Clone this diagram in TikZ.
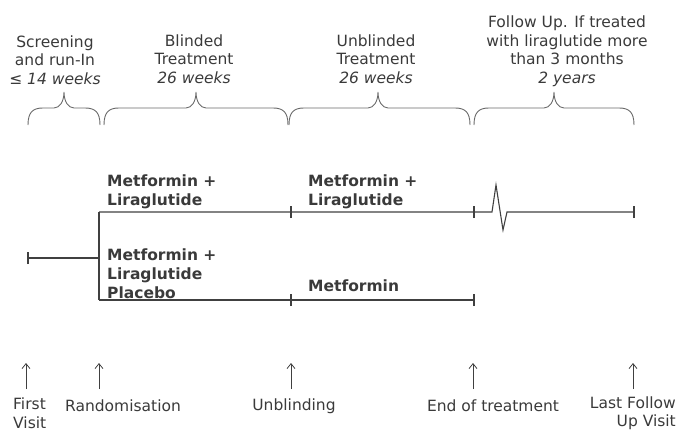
\documentclass[tikz,border=0pt]{standalone}
\usepackage{fontspec}
\setmainfont{DejaVu Sans}
\usetikzlibrary{arrows.meta}
\definecolor{txtgray}{HTML}{3A3A3A}
\definecolor{linegray}{HTML}{404040}
\definecolor{bracegray}{HTML}{6A6A6A}
\newcommand\studybrace[3]{%
  \draw[bracestyle] (#1,125) .. controls (#1,112) and (#1+5,108) .. (#1+15,108)
    -- (#2-10,108) .. controls (#2-4,108) and (#2,101) .. (#2,92)
    .. controls (#2,101) and (#2+4,108) .. (#2+10,108)
    -- (#3-15,108) .. controls (#3-5,108) and (#3,112) .. (#3,125);}
\begin{document}
\begin{tikzpicture}[x=1pt,y=-1pt,
  every node/.style={inner sep=0pt,text=txtgray,font=\fontsize{15.5}{18.5}\selectfont},
  lbl/.style={align=center},
  arm/.style={font=\fontsize{15.5}{19}\selectfont\bfseries,align=left,anchor=west},
  tl/.style={draw=linegray,line width=1.1pt},
  tick/.style={draw=linegray,line width=1.1pt},
  bracestyle/.style={draw=bracegray,line width=0.9pt},
  uparrow/.style={draw=linegray,line width=0.8pt,-{Straight Barb[length=5pt,width=8pt]}}]
\useasboundingbox (0,0) rectangle (678,431);
% period headings
\node[lbl] (hscr) at (55,60) {Screening\\and run-In\\\textit{≤ 14 weeks}};
\node[lbl] (hbl) at (194,59) {Blinded\\Treatment\\\textit{26 weeks}};
\node[lbl] (hub) at (376,59) {Unblinded\\Treatment\\\textit{26 weeks}};
\node[lbl] (hfu) at (567,51) {Follow Up. If treated\\with liraglutide more\\than 3 months\\\textit{2 years}};
% braces
\studybrace{28}{64}{100}
\studybrace{104}{196}{288}
\studybrace{289}{378}{470}
\studybrace{474}{554}{634}
% timeline points
\coordinate (fv) at (28,258);
\coordinate (rand) at (99,258);
\coordinate (rt) at (99,212);
\coordinate (rb) at (99,300);
\coordinate (ut) at (291,212);
\coordinate (ub) at (291,300);
\coordinate (et) at (474,212);
\coordinate (eb) at (474,300);
\coordinate (z1) at (492,212);
\coordinate (z2) at (496,185);
\coordinate (z3) at (503,230);
\coordinate (z4) at (507,212);
\coordinate (lf) at (634,212);
\draw[tl] (fv) -- (rand);
\draw[tl] (rt) -- (rb);
\draw[tl] (rt) -- (et) -- (z1) -- (z2) -- (z3) -- (z4) -- (lf);
\draw[tl] (rb) -- (eb);
\foreach \p in {fv,ut,ub,et,eb,lf}{\draw[tick] ([yshift=-6pt]\p) -- ([yshift=6pt]\p);}
% arm labels
\node[arm] (a1) at (107,192) {Metformin +\\Liraglutide};
\node[arm] (a2) at (308,192) {Metformin +\\Liraglutide};
\node[arm] (a3) at (107,273.5) {Metformin +\\Liraglutide\\Placebo};
\node[arm] (a4) at (308,286) {Metformin};
% milestone arrows
\foreach \n/\x in {m1/26,m2/99,m3/291,m4/473,m5/633}{
  \coordinate (\n b) at (\x,389);
  \coordinate (\n t) at (\x,363);
  \draw[uparrow] (\n b) -- (\n t);}
% milestone labels
\node[align=left,anchor=west] (l1) at (13,413) {First\\Visit};
\node (l2) at (123,406) {Randomisation};
\node (l3) at (294,406) {Unblinding};
\node (l4) at (493,406) {End of treatment};
\node[align=right,anchor=east] (l5) at (676,413) {Last Follow\\Up Visit};
\end{tikzpicture}
\end{document}
